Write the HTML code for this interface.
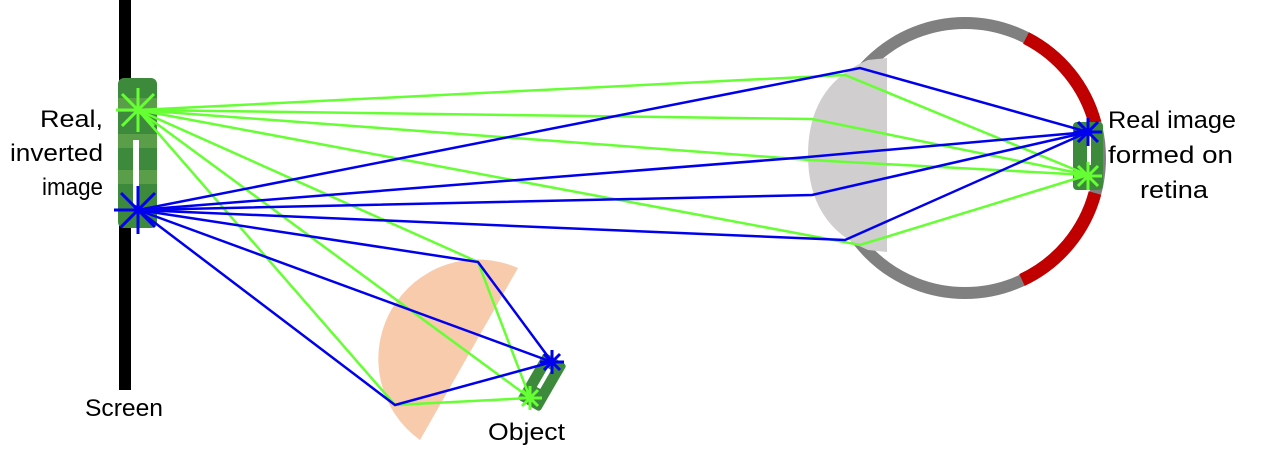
<!DOCTYPE html>
<html><head><style>
body{margin:0;background:#fff;width:1261px;height:467px;overflow:hidden}
svg{display:block}
text{font-family:"Liberation Sans",sans-serif;font-size:24px;fill:#000}
</style></head><body>
<svg width="1261" height="467" viewBox="0 0 1261 467">
<!-- screen -->
<rect x="119" y="0" width="12" height="390" fill="#000"/>
<!-- eye -->
<circle cx="965" cy="158" r="135" fill="none" stroke="#808080" stroke-width="12"/>
<path d="M1026,38 A135,135 0 0 1 1095,123" fill="none" stroke="#c00000" stroke-width="13"/>
<path d="M1095,193 A135,135 0 0 1 1022,280" fill="none" stroke="#c00000" stroke-width="13"/>
<!-- eye lens -->
<path d="M887,58 L868,60 Q808,85 808,155 Q808,225 868,250 L887,252 Z" fill="#d0cecf"/>
<!-- object lens -->
<path d="M518,268 A99.5,99.5 0 0 0 420,440 Z" fill="#f8cbad"/>
<!-- images -->
<rect x="118" y="78" width="39" height="150" rx="6" fill="#3d8a3d"/>
<rect x="118" y="98" width="39" height="14" fill="#5a9e4a"/>
<rect x="118" y="134" width="39" height="14" fill="#5a9e4a"/>
<rect x="118" y="170" width="39" height="14" fill="#5a9e4a"/>
<rect x="133" y="140" width="6" height="65" fill="#fff"/>
<rect x="1073" y="122" width="30" height="68" rx="4" fill="#3d8a3d"/>
<rect x="1087" y="135" width="4" height="30" fill="#fff"/>
<g transform="translate(542,382) rotate(30)">
<rect x="-13" y="-27" width="26" height="54" rx="3" fill="#3d8a3d"/>
<rect x="-2" y="-15" width="4" height="22" fill="#fff"/>
</g>
<!-- green rays -->
<g stroke="#66ff33" stroke-width="2.5" fill="none">
<polyline points="138,110 845,75 1088,175"/>
<polyline points="138,110 812,119 1088,175"/>
<polyline points="138,110 810,160 1088,175"/>
<polyline points="138,110 860,245 1088,175"/>
<polyline points="138,110 478,262 530,398"/>
<polyline points="138,110 395,405 530,398"/>
<line x1="138" y1="110" x2="530" y2="398"/>
</g>
<!-- blue rays -->
<g stroke="#0000ee" stroke-width="2.5" fill="none">
<polyline points="138,210 860,68 1088,132"/>
<polyline points="138,210 808,157 1088,132"/>
<polyline points="138,210 812,195 1088,132"/>
<polyline points="138,210 845,240 1088,132"/>
<polyline points="138,210 478,262 552,362"/>
<polyline points="138,210 395,405 552,362"/>
<line x1="138" y1="210" x2="552" y2="362"/>
</g>
<!-- stars -->
<g stroke="#66ff33" stroke-width="3">
<path d="M138,88v44M116,110h44M122,94l32,32M154,94l-32,32"/>
<path d="M1088,162v28M1074,176h28M1078,166l20,20M1098,166l-20,20"/>
<path d="M530,386v24M518,398h24M522,390l16,16M538,390l-16,16"/>
</g>
<g stroke="#0000ee" stroke-width="3">
<path d="M138,186v48M114,210h48M121,193l34,34M155,193l-34,34"/>
<path d="M1088,118v28M1074,132h28M1078,122l20,20M1098,122l-20,20"/>
<path d="M552,350v24M540,362h24M544,354l16,16M560,354l-16,16"/>
</g>
<!-- labels -->
<text x="40" y="127" textLength="63" lengthAdjust="spacingAndGlyphs">Real,</text>
<text x="10" y="161" textLength="93" lengthAdjust="spacingAndGlyphs">inverted</text>
<text x="42" y="195" textLength="61" lengthAdjust="spacingAndGlyphs">image</text>
<text x="85" y="416" textLength="78" lengthAdjust="spacingAndGlyphs">Screen</text>
<text x="488" y="440" textLength="77" lengthAdjust="spacingAndGlyphs">Object</text>
<text x="1108" y="128" textLength="128" lengthAdjust="spacingAndGlyphs">Real image</text>
<text x="1108" y="163" textLength="125" lengthAdjust="spacingAndGlyphs">formed on</text>
<text x="1140" y="198" textLength="68" lengthAdjust="spacingAndGlyphs">retina</text>
</svg>
</body></html>
